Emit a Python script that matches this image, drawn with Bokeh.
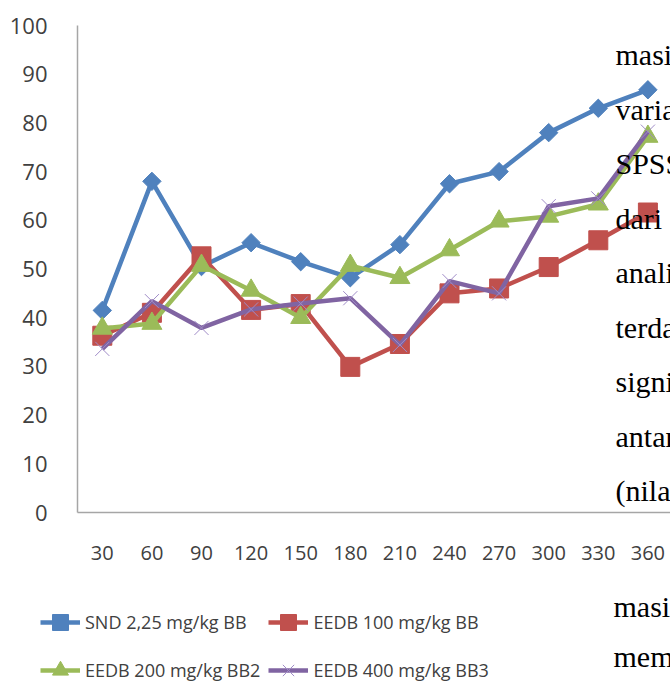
import numpy as np
from bokeh.plotting import figure
from bokeh.models import FixedTicker, Legend, LegendItem, Label, Range1d
from bokeh.embed import file_html
from bokeh.resources import INLINE

# ---- data ----
times = [30, 60, 90, 120, 150, 180, 210, 240, 270, 300, 330, 360]
tick_labels = ["30", "60", "90", "120", "150", "180", "210", "240", "270", "300", "330", "360"]
y_ticks = [0, 10, 20, 30, 40, 50, 60, 70, 80, 90, 100]

snd = [41.5, 68.0, 50.5, 55.4, 51.5, 48.2, 55.0, 67.5, 70.0, 78.0, 83.0, 86.8]
eedb100 = [36.3, 41.0, 52.6, 41.6, 42.8, 29.9, 34.6, 45.0, 46.0, 50.4, 55.9, 61.6]
eedb200 = [37.8, 38.8, 50.7, 45.6, 40.0, 50.7, 48.2, 53.9, 59.8, 60.8, 63.3, 77.2]
eedb400 = [33.6, 43.4, 37.9, 41.7, 42.9, 44.0, 34.4, 47.5, 45.0, 62.9, 64.5, 78.2]

series_names = ["SND 2,25 mg/kg BB", "EEDB 100 mg/kg BB", "EEDB 200 mg/kg BB2", "EEDB 400 mg/kg BB3"]

overlay_top = ["masi", "varia", "SPSS", "dari", "anali", "terda", "signi", "antar", "(nila"]
overlay_bottom = ["masi", "mem"]

# ---- layout (canvas pixels) ----
W, H = 670, 682
AX_L, AX_T, AX_B = 77, 25, 512      # plot-area left, top (value 100), bottom (value 0)
PX_PER_CAT = 49.6                   # pixels per 30-minute category
px_x = PX_PER_CAT / 30.0
px_y = (AX_B - AX_T) / 100.0
x0 = 15 - AX_L / px_x
x1 = x0 + W / px_x
y0 = -(H - AX_B) / px_y

p = figure(width=W, height=H, output_backend="svg", toolbar_location=None,
           x_range=Range1d(x0, x1), y_range=Range1d(y0, 100 + AX_T / px_y),
           min_border=0, min_border_left=0, min_border_right=0,
           min_border_top=0, min_border_bottom=0)
p.outline_line_color = None
p.xgrid.visible = False
p.ygrid.visible = False
p.background_fill_color = "white"
p.border_fill_color = "white"

for ax in (p.xaxis[0], p.yaxis[0]):
    ax.axis_line_color = "#A6A6A6"
    ax.axis_line_width = 1.5
    ax.major_tick_line_color = None
    ax.minor_tick_line_color = None
    ax.major_label_text_font = "Open Sans"
    ax.major_label_text_color = "#404040"

p.xaxis.fixed_location = 0
p.xaxis.bounds = (15, x1)
p.xaxis.ticker = FixedTicker(ticks=times)
p.xaxis.major_label_overrides = {t: s for t, s in zip(times, tick_labels)}
p.xaxis.major_label_text_font_size = "20px"
p.xaxis.major_label_standoff = 27

p.yaxis.fixed_location = 15
p.yaxis.bounds = (0, 100)
p.yaxis.ticker = FixedTicker(ticks=y_ticks)
p.yaxis.major_label_text_font_size = "22px"
p.yaxis.major_label_standoff = 24

colors = ["#4F81BD", "#C0504D", "#9BBB59", "#8064A2"]
data = [snd, eedb100, eedb200, eedb400]
items = []
for i, (vals, c) in enumerate(zip(data, colors)):
    lr = p.line(times, vals, line_color=c, line_width=4.5)
    if i == 0:
        mr = p.scatter(times, vals, marker="square", angle=np.pi / 4, size=13,
                       fill_color=c, line_color=c)
    elif i == 1:
        mr = p.scatter(times, vals, marker="square", size=19, fill_color=c, line_color=c)
    elif i == 2:
        mr = p.scatter(times, vals, marker="triangle", size=20, fill_color=c, line_color=c)
    else:
        mr = p.scatter(times, vals, marker="x", size=20, line_color="#A08CC8", line_width=1)
    items.append(LegendItem(label=series_names[i], renderers=[lr, mr]))

# legend fills column-first: order so rows read SND | EEDB100, EEDB200 | EEDB400
legend = Legend(items=[items[0], items[2], items[1], items[3]], ncols=2, location=(40, H - 690),
                padding=0, margin=0, spacing=8, glyph_width=40, glyph_height=40,
                label_standoff=5, label_text_font="Open Sans", label_text_font_size="18px",
                label_text_color="#404040", border_line_color=None,
                background_fill_alpha=0)
p.add_layout(legend, "center")

def add_text(txt, cx, cy):
    p.add_layout(Label(x=cx, y=H - cy, x_units="screen", y_units="screen",
                       text=txt, text_font="Liberation Serif", text_font_size="30px",
                       text_color="black", text_baseline="alphabetic", text_align="left"))

for k, t in enumerate(overlay_top):
    add_text(t, 615, 54 + k * 54.5)
add_text(overlay_bottom[0], 613, 606)
add_text(overlay_bottom[1], 613, 656)

open("out.html", "w").write(file_html(p, INLINE))
